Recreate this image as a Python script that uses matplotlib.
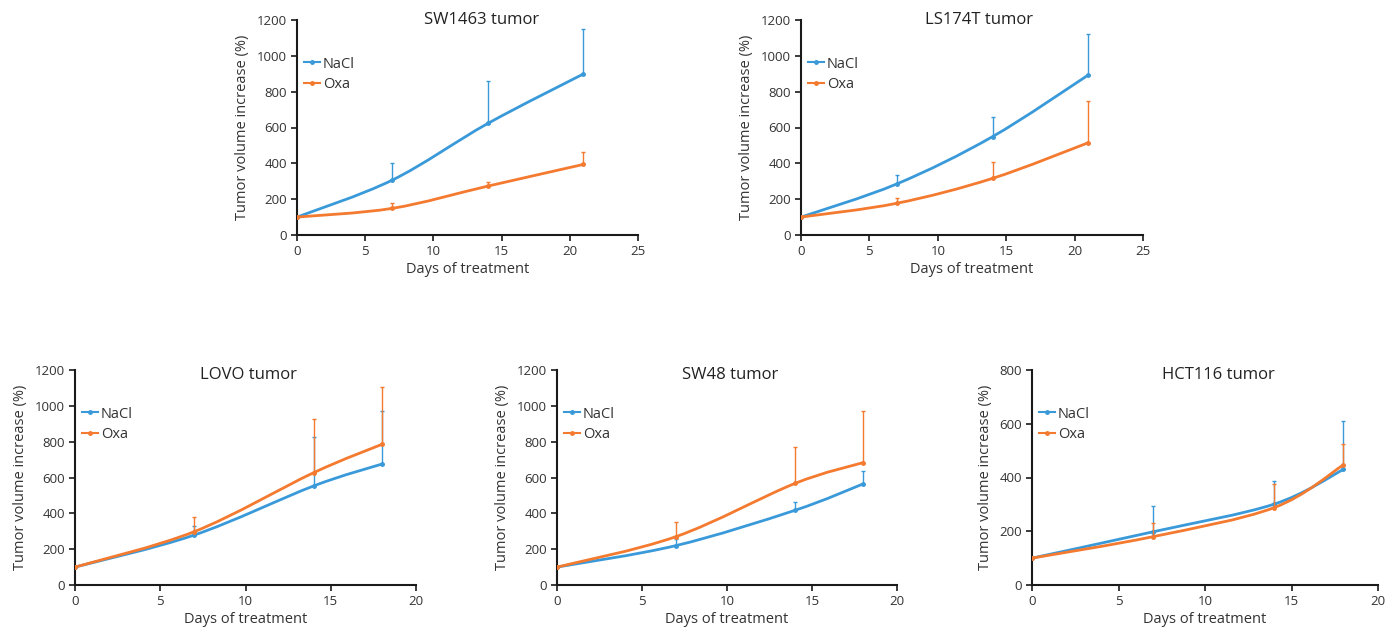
import numpy as np
import matplotlib
matplotlib.use("Agg")
import matplotlib.pyplot as plt
from matplotlib.path import Path
from matplotlib.patches import PathPatch
from matplotlib.lines import Line2D

plt.rcParams['font.family'] = ['Open Sans', 'DejaVu Sans']

BLUE = '#3a9ad9'
ORANGE = '#f47a30'

# ---- data ----
titles = ["SW1463 tumor", "LS174T tumor", "LOVO tumor", "SW48 tumor", "HCT116 tumor"]
days_21 = [0, 7, 14, 21]
days_18 = [0, 7, 14, 18]

sw1463_nacl = [100, 307, 623, 899]
sw1463_nacl_err = [0, 93, 235, 251]
sw1463_oxa = [100, 149, 273, 394]
sw1463_oxa_err = [0, 31, 25, 71]

ls174t_nacl = [100, 285, 549, 893]
ls174t_nacl_err = [0, 52, 108, 231]
ls174t_oxa = [100, 177, 316, 515]
ls174t_oxa_err = [0, 31, 91, 235]

lovo_nacl = [100, 279, 553, 675]
lovo_nacl_err = [0, 50, 271, 296]
lovo_oxa = [100, 298, 627, 785]
lovo_oxa_err = [0, 83, 298, 322]

sw48_nacl = [100, 220, 417, 564]
sw48_nacl_err = [0, 35, 44, 74]
sw48_oxa = [100, 270, 567, 683]
sw48_oxa_err = [0, 83, 201, 288]

hct116_nacl = [100, 198, 301, 430]
hct116_nacl_err = [0, 96, 87, 180]
hct116_oxa = [100, 180, 288, 447]
hct116_oxa_err = [0, 52, 88, 78]

panels = [
    (days_21, sw1463_nacl, sw1463_nacl_err, sw1463_oxa, sw1463_oxa_err, 25, 1200, 200),
    (days_21, ls174t_nacl, ls174t_nacl_err, ls174t_oxa, ls174t_oxa_err, 25, 1200, 200),
    (days_18, lovo_nacl, lovo_nacl_err, lovo_oxa, lovo_oxa_err, 20, 1200, 200),
    (days_18, sw48_nacl, sw48_nacl_err, sw48_oxa, sw48_oxa_err, 20, 1200, 200),
    (days_18, hct116_nacl, hct116_nacl_err, hct116_oxa, hct116_oxa_err, 20, 800, 200),
]

# axes rectangles in figure fraction
rects = [
    (297/1400, 1-235/632, 341/1400, 215/632),
    (801/1400, 1-235/632, 342/1400, 215/632),
    (75/1400, 1-585/632, 341/1400, 215/632),
    (557/1400, 1-585/632, 340/1400, 215/632),
    (1032/1400, 1-585/632, 346/1400, 215/632),
]
title_x = [0.54, 0.52, 0.51, 0.51, 0.54]
title_y = [1.0, 1.0, 0.975, 0.975, 0.975]


def smooth_path(x, y):
    """Excel-style smoothed line drawn as cubic Bezier through the data points."""
    pts = np.column_stack([x, y]).astype(float)
    n = len(pts)
    verts = [pts[0]]
    codes = [Path.MOVETO]
    for i in range(n - 1):
        p0 = pts[i - 1] if i > 0 else pts[i]
        p1 = pts[i]
        p2 = pts[i + 1]
        p3 = pts[i + 2] if i + 2 < n else pts[i + 1]
        c1 = p1 + (p2 - p0) / 6.0
        c2 = p2 - (p3 - p1) / 6.0
        verts += [c1, c2, p2]
        codes += [Path.CURVE4] * 3
    return Path(verts, codes)


fig = plt.figure(figsize=(14, 6.32), dpi=100)

for k, (days, nacl, nerr, oxa, oerr, xmax, ymax, ystep) in enumerate(panels):
    ax = fig.add_axes(rects[k])
    for vals, errs, col, z in ((nacl, nerr, BLUE, 3), (oxa, oerr, ORANGE, 4)):
        ax.add_patch(PathPatch(smooth_path(days, vals), facecolor='none',
                               edgecolor=col, lw=2.0, zorder=z))
        ax.errorbar(days, vals, yerr=[np.zeros(len(errs)), errs], fmt='o',
                    ms=2.5, color=col, ecolor=col, elinewidth=1.0,
                    capsize=1.5, capthick=1.0, zorder=z)
    ax.set_xlim(0, xmax)
    ax.set_ylim(0, ymax)
    ax.set_xticks(np.arange(0, xmax + 1, 5))
    ax.set_yticks(np.arange(0, ymax + 1, ystep))
    for s in ('top', 'right'):
        ax.spines[s].set_visible(False)
    for s in ('left', 'bottom'):
        ax.spines[s].set_linewidth(1.5)
        ax.spines[s].set_color('#1a1a1a')
        ax.spines[s].set_clip_on(False)
    ax.tick_params(direction='out', length=4, width=1.2, color='#1a1a1a',
                   labelsize=9.5, labelcolor='#333333', pad=3)
    ax.set_xlabel("Days of treatment", fontsize=10.5, color='#333333', labelpad=3)
    ax.set_ylabel("Tumor volume increase (%)", fontsize=10.5, color='#333333', labelpad=5)
    ax.text(title_x[k], title_y[k], titles[k], transform=ax.transAxes,
            ha='center', va='center', fontsize=12, color='#222222')
    handles = [
        Line2D([], [], color=BLUE, lw=1.5, marker='o', ms=2.5),
        Line2D([], [], color=ORANGE, lw=1.5, marker='o', ms=2.5),
    ]
    ax.legend(handles, ["NaCl", "Oxa"], loc='upper left', bbox_to_anchor=(0.02, 0.83),
              frameon=False, fontsize=10.5, handlelength=1.1, handletextpad=0.2,
              borderpad=0, borderaxespad=0, labelspacing=0.35, labelcolor='#333333')

fig.savefig("out.png", dpi=100, facecolor='white')
